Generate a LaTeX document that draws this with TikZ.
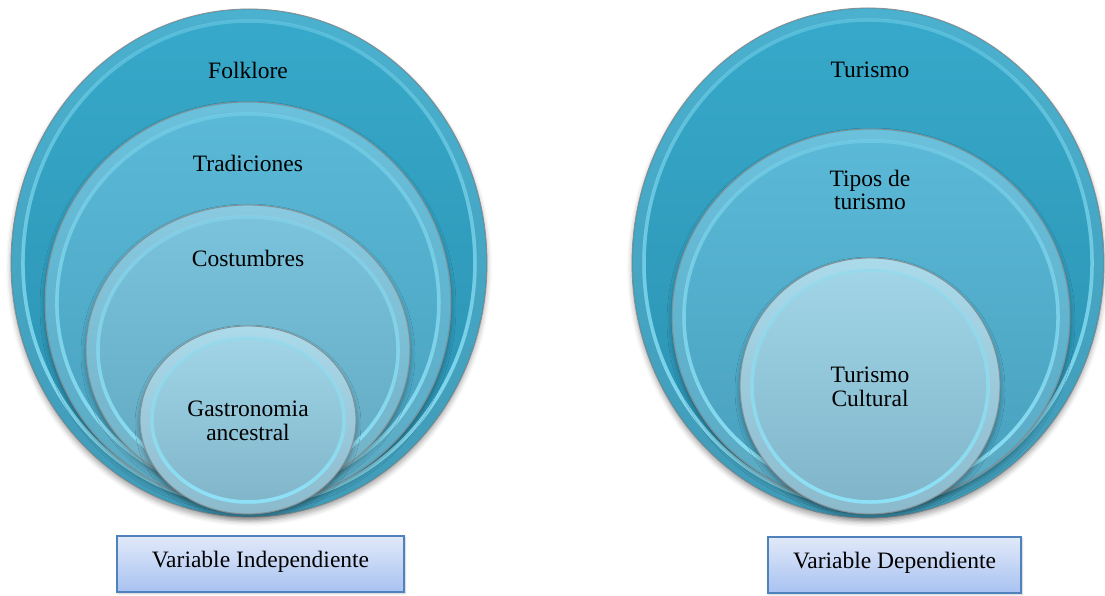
\documentclass[tikz,border=0pt]{standalone}
\usepackage{fontspec}
\setmainfont{Liberation Serif}
\usetikzlibrary{shadows.blur,fadings}
\definecolor{oTop}{HTML}{37A9CA}
\definecolor{oBot}{HTML}{2B90B0}
\definecolor{tTop}{HTML}{5BBAD8}
\definecolor{tBot}{HTML}{479FBC}
\definecolor{cTop}{HTML}{7CC4DD}
\definecolor{cBot}{HTML}{5FA8C0}
\definecolor{gTop}{HTML}{A2D6E8}
\definecolor{gBot}{HTML}{7FB3C8}
\definecolor{rimC}{HTML}{8EE2F7}
\definecolor{boxBorder}{HTML}{4F81BD}
\definecolor{boxTop}{HTML}{E1E9F9}
\definecolor{boxBot}{HTML}{A8C2F1}
\tikzset{
  lbl/.style={font=\fontsize{23.5}{23.5}\selectfont, align=center, text=black, inner sep=0pt},
  rimbase/.style={draw=rimC, line width=3.5pt, opacity=0.35},
  rimlit/.style={draw=rimC, line width=3.5pt, path fading=north},
  toplit/.style={draw=white, line width=10pt, opacity=0.10},
  discedge/.style={draw=black!45, line width=0.8pt},
  discshadow/.style={blur shadow={shadow xshift=0pt, shadow yshift=-4pt, shadow blur radius=5pt, shadow opacity=35}},
  varbox/.style={draw=boxBorder, line width=1.3pt, top color=boxTop, bottom color=boxBot,
    blur shadow={shadow xshift=1pt, shadow yshift=-1.5pt, shadow blur radius=2pt, shadow opacity=25}},
}
\newcommand\disc[6]{%
  \shade[discshadow, top color=#5, bottom color=#6, discedge] (#1,#2) ellipse (#3 and #4);
  \draw[toplit] (#1,#2) ellipse ({#3-6} and {#4-6});
  \draw[rimbase] (#1,#2) ellipse ({#3-12} and {#4-12});
  \draw[rimlit] (#1,#2) ellipse ({#3-12} and {#4-12});
}
\begin{document}
\begin{tikzpicture}[x=1pt,y=1pt]
\useasboundingbox (0,0) rectangle (1105,595);
% left group
\disc{249}{332}{238}{254}{oTop}{oBot}
\disc{248}{292}{203}{201}{tTop}{tBot}
\disc{248}{245}{162}{145}{cTop}{cBot}
\disc{248}{175}{108}{94}{gTop}{gBot}
\node[lbl] (folk) at (248,525) {Folklore};
\node[lbl] (trad) at (248,432) {Tradiciones};
\node[lbl] (cost) at (248,337) {Costumbres};
\node[lbl] (gast) at (248,174) {Gastronomia\\ancestral};
% right group
\disc{868}{332}{236}{255}{oTop}{oBot}
\disc{871}{278}{199}{188}{tTop}{tBot}
\disc{870}{209}{130}{128}{gTop}{gBot}
\node[lbl] (tur) at (870,525) {Turismo};
\node[lbl] (tipos) at (870,405) {Tipos de\\turismo};
\node[lbl] (cult) at (870,208) {Turismo\\Cultural};
% variable boxes
\path[varbox] (117,3) rectangle (404,59);
\node[lbl] (vi) at (260.5,33) {Variable Independiente};
\path[varbox] (768,2) rectangle (1021,58);
\node[lbl] (vd) at (894.5,32) {Variable Dependiente};
\end{tikzpicture}
\end{document}
